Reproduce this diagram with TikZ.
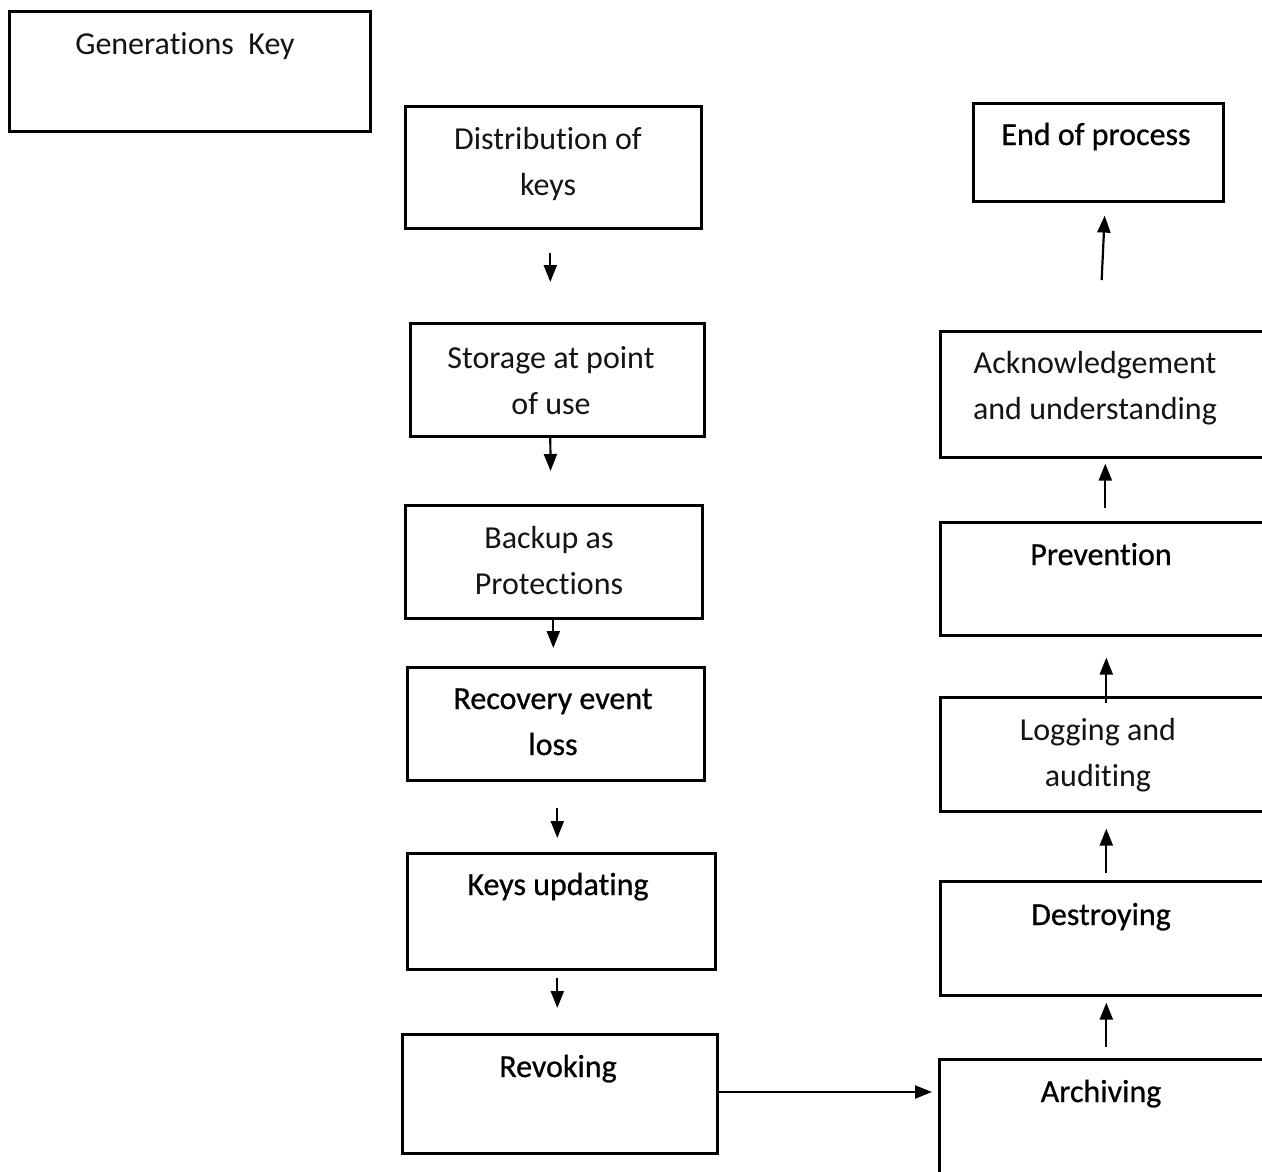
\documentclass[tikz,border=0pt]{standalone}
\usepackage{fontspec}
\setmainfont{Carlito}[Ligatures=NoCommon]
\usetikzlibrary{arrows.meta}
\begin{document}
\begin{tikzpicture}[x=1pt,y=-1pt,
  box/.style={draw=black, line width=2.6pt, fill=white, rectangle, inner sep=0pt, anchor=north west},
  % anchor=base sits on the baseline of the last line of a label
  lbl/.style={inner sep=0pt, align=center, anchor=base, font=\fontsize{32}{46}\selectfont, text=black!92},
  heavy/.style={lbl, text=black, font=\fontsize{32}{46}\selectfont\addfontfeature{FakeBold=0.7}},
  arr/.style={line width=2.2pt, -{Triangle[width=13pt,length=17pt]}}]
\clip (0,0) rectangle (1262,1171);
\fill[white] (0,0) rectangle (1262,1171);

% left column
\node[box, minimum width=361pt, minimum height=120pt] (gen) at (8,10) {};
\node[lbl] (gent) at (185,54) {Generations\ \ Key};

\node[box, minimum width=296pt, minimum height=122pt] (dist) at (404,105) {};
\node[lbl] (distt) at (548,195) {Distribution of\\ keys};

\node[box, minimum width=294pt, minimum height=113pt] (stor) at (409,322) {};
\node[lbl] (stort) at (551,414) {Storage at point\\ of use};

\node[box, minimum width=297pt, minimum height=113pt] (back) at (404,504) {};
\node[lbl] (backt) at (549,594) {Backup as\\ Protections};

\node[box, minimum width=297pt, minimum height=113pt] (reco) at (406,666) {};
\node[heavy] (recot) at (553,755) {Recovery event\\ loss};

\node[box, minimum width=308pt, minimum height=116pt] (upd) at (406,852) {};
\node[heavy] (updt) at (558,895) {Keys updating};

\node[box, minimum width=315pt, minimum height=119pt] (revo) at (401,1033) {};
\node[heavy] (revot) at (558,1077) {Revoking};

% right column
\node[box, minimum width=390pt, minimum height=140pt] (arch) at (938,1058) {};
\node[heavy] (archt) at (1101,1102) {Archiving};

\node[box, minimum width=390pt, minimum height=114pt] (dest) at (939,880) {};
\node[heavy] (destt) at (1101,925) {Destroying};

\node[box, minimum width=390pt, minimum height=114pt] (logg) at (939,696) {};
\node[lbl] (loggt) at (1098,786) {Logging and\\ auditing};

\node[box, minimum width=390pt, minimum height=113pt] (prev) at (939,521) {};
\node[heavy] (prevt) at (1101,565) {Prevention};

\node[box, minimum width=390pt, minimum height=126pt] (ackn) at (939,330) {};
\node[lbl] (acknt) at (1095,419) {Acknowledgement\\ and understanding};

\node[box, minimum width=250pt, minimum height=98pt] (endp) at (972,102) {};
\node[heavy] (endpt) at (1096,145) {End of process};

% connectors down the left column
\draw[arr, shorten <=23pt, shorten >=40pt] ([xshift=-3pt]dist.south) -- ([xshift=-7pt]stor.north);
\draw[arr, shorten >=33pt] ([xshift=-7pt]stor.south) -- ([xshift=-3pt]back.north);
\draw[arr, shorten >=18pt] ([xshift=-0.5pt]back.south) -- ([xshift=-2.5pt]reco.north);
\draw[arr, shorten <=26pt, shorten >=14pt] ([xshift=1.5pt]reco.south) -- ([xshift=-4pt]upd.north);
\draw[arr, shorten <=7pt, shorten >=25pt] ([xshift=-4pt]upd.south) -- ([xshift=-2.5pt]revo.north);
\draw[arr, shorten >=6pt] (revo.east |- 0,1092) -- (arch.west |- 0,1092);

% connectors up the right column
\draw[arr, shorten <=11pt, shorten >=6pt] ([xshift=-28pt]arch.north) -- ([xshift=-29pt]dest.south);
\draw[arr, shorten <=7pt, shorten >=16pt] ([xshift=-29pt]dest.north) -- ([xshift=-29pt]logg.south);
\draw[arr, shorten <=-7pt, shorten >=21pt] ([xshift=-29pt]logg.north) -- ([xshift=-29pt]prev.south);
\draw[arr, shorten <=13pt, shorten >=5pt] ([xshift=-30pt]prev.north) -- ([xshift=-30pt]ackn.south);
\draw[arr, shorten <=50pt, shorten >=13pt] ([xshift=-36pt]ackn.north) -- ([xshift=7pt]endp.south);
\end{tikzpicture}
\end{document}
